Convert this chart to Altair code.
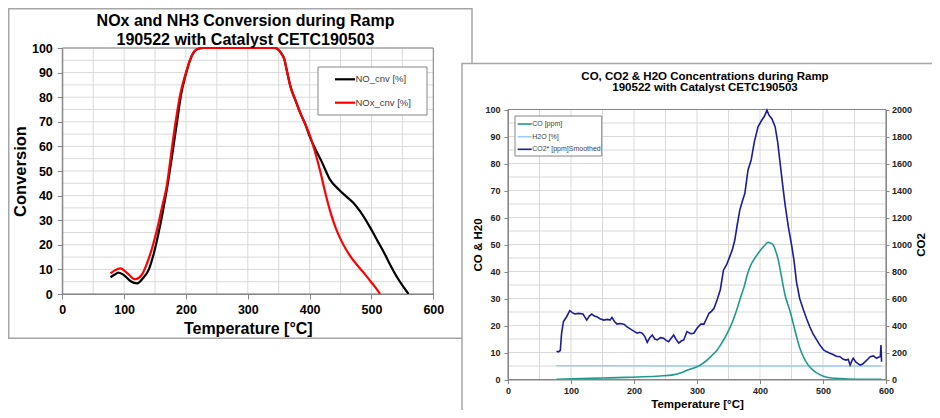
import altair as alt
import pandas as pd

# ---------------- text ----------------
left_title = ["NOx and NH3 Conversion during Ramp", "190522 with Catalyst CETC190503"]
right_title = ["CO, CO2 & H2O Concentrations during Ramp", "190522 with Catalyst CETC190503"]
left_legend = ["NO_cnv [%]", "NOx_cnv [%]"]
left_colors = ["#000000", "#ff0000"]
right_legend = ["CO [ppm]", "H2O [%]", "CO2* [ppm]Smoothed"]
right_colors = ["#1f9a8c", "#9dcbf5", "#1c1c96"]

# ---------------- ticks ----------------
x_ticks = [0, 100, 200, 300, 400, 500, 600]
x_grid = [0, 50, 100, 150, 200, 250, 300, 350, 400, 450, 500, 550, 600]
y_ticks = [0, 10, 20, 30, 40, 50, 60, 70, 80, 90, 100]
y_grid = [0, 5, 10, 15, 20, 25, 30, 35, 40, 45, 50, 55, 60, 65, 70, 75, 80, 85, 90, 95, 100]
co2_ticks = [0, 200, 400, 600, 800, 1000, 1200, 1400, 1600, 1800, 2000]

# ---------------- left chart data ----------------
no_T = [78, 84, 91, 100, 110, 121, 130, 140, 148, 155, 163, 170, 178, 185, 192, 200, 207, 213, 220, 228,
        300, 344, 350, 355, 359, 363, 369, 377, 385, 393, 401, 410, 420, 433, 447, 460, 471, 482, 498, 510,
        520, 530, 541, 550, 560]
no_C = [6.8, 7.8, 8.7, 7.6, 5.3, 4.3, 6.3, 10.0, 16.5, 24.0, 34.0, 44.0, 57.0, 69.0, 81.0, 89.5, 95.3, 98.4, 99.7, 100,
        100, 100, 99.2, 97.5, 95.5, 91.0, 84.3, 78.8, 73.5, 69.0, 63.5, 58.5, 53.5, 46.5, 42.5, 39.5, 37.0, 33.5, 27.0, 21.5,
        17.0, 12.0, 7.0, 3.5, 0.0]
nox_T = [78, 85, 94, 105, 118, 128, 137, 145, 153, 161, 169, 176, 183, 191, 200, 207, 213, 220, 227, 300,
         344, 350, 355, 359, 363, 369, 377, 385, 393, 401, 409, 417, 425, 434, 442, 450, 458, 466, 476, 487,
         498, 507, 514]
nox_C = [8.4, 9.6, 10.4, 8.5, 6.0, 7.6, 12.5, 18.5, 26.0, 35.0, 44.0, 57.0, 69.5, 81.5, 90.0, 95.5, 98.5, 99.7, 100, 100,
         100, 99.2, 97.5, 95.5, 91.0, 84.3, 78.8, 73.5, 69.0, 64.0, 57.5, 50.0, 41.5, 33.0, 27.0, 22.3, 18.5, 15.3, 12.0, 8.8,
         5.3, 2.5, 0.0]

# ---------------- right chart data ----------------
co2_T = [77, 80, 83, 85, 88, 93, 98, 102, 106, 112,
         119, 125, 129, 133, 137, 141, 146, 152, 158, 162,
         165, 169, 173, 178, 184, 189, 194, 199, 205, 209,
         213, 217, 221, 225, 229, 233, 237, 242, 247, 251,
         255, 259, 263, 267, 271, 275, 279, 284, 290, 295,
         300, 306, 311, 315, 319, 323, 327, 332, 337, 342,
         347, 352, 356, 360, 364, 368, 372, 376, 381, 386,
         391, 397, 403, 407, 411, 414, 419, 424, 428, 432,
         436, 440, 445, 450, 454, 458, 463, 469, 474, 479,
         484, 490, 495, 501, 506, 511, 516, 521, 527, 532,
         537, 540, 543, 546, 548, 552, 555, 559, 563, 567,
         571, 575, 580, 585, 588, 591, 592, 593]
co2_V = [210, 205, 215, 340, 430, 465, 510, 495, 485, 490,
         485, 440, 470, 485, 470, 465, 450, 440, 445, 440,
         460, 430, 410, 415, 410, 390, 375, 360, 343, 350,
         343, 320, 275, 310, 330, 300, 293, 310, 305, 290,
         280, 305, 330, 295, 270, 285, 293, 355, 340, 343,
         380, 410, 410, 450, 490, 505, 527, 590, 665, 810,
         850, 910, 960, 1033, 1150, 1256, 1320, 1379, 1552, 1626,
         1760, 1873, 1922, 1950, 1995, 1960, 1930, 1873, 1760, 1601,
         1440, 1290, 1130, 1000, 880, 720, 600, 515, 450, 391,
         340, 293, 255, 219, 205, 194, 185, 172, 169, 150,
         144, 150, 107, 140, 157, 130, 120, 107, 115, 132,
         150, 169, 175, 157, 165, 169, 255, 132]
co_T = [77, 100, 130, 160, 188, 215, 241, 262, 275, 285,
        300, 308, 316, 324, 332, 340, 348, 356, 364, 370,
        375, 380, 385, 390, 397, 403, 408, 413, 417, 421,
        425, 429, 433, 437, 440, 444, 448, 453, 458, 463,
        469, 476, 485, 495, 506, 520, 540, 560, 593]
co_V = [0.1, 0.3, 0.4, 0.6, 0.8, 1.0, 1.3, 1.7, 2.5, 3.5,
        4.7, 5.8, 7.2, 9.0, 10.9, 13.8, 17.1, 21.2, 26.5, 31.0,
        34.5, 39.0, 42.2, 44.3, 46.7, 48.5, 49.8, 50.8, 50.5, 49.8,
        47.5, 44.3, 39.5, 34.4, 31.0, 28.0, 25.0, 20.5, 15.9, 11.8,
        8.4, 5.5, 3.3, 1.8, 0.8, 0.4, 0.2, 0.1, 0.1]
h2o_T = [77, 150, 250, 350, 450, 550, 593]
h2o_V = [5.1, 5.1, 5.0, 5.0, 5.0, 5.0, 5.0]

# ---------------- styling ----------------
FONT = "Liberation Sans"
GRID = "#d9d9d9"
AX = "#868686"
FRAME = "#a6a6a6"
W, H = 924, 402


def scale(dom, rng):
    return alt.Scale(domain=dom, range=rng, nice=False, zero=False)


LXS = scale([0, 600], [54.3, 425.3])
LYS = scale([0, 100], [286, 40])
RXS = scale([0, 600], [500, 878])
RYS = scale([0, 100], [371.5, 101.5])
RY2S = scale([0, 2000], [371.5, 101.5])

one = pd.DataFrame({"k": [0]})


def rect(x1, x2, y1, y2, fill="white", stroke=FRAME, sw=1.5, op=1.0):
    return alt.Chart(one).mark_rect(fill=fill, fillOpacity=op, stroke=stroke, strokeWidth=sw).encode(
        x=alt.value(x1), x2=alt.value(x2), y=alt.value(y1), y2=alt.value(y2))


def text(s, x, y, size, weight="normal", align="center", color="#000000"):
    return alt.Chart(pd.DataFrame({"t": [s]})).mark_text(
        font=FONT, fontSize=size, fontWeight=weight, align=align, baseline="middle", color=color
    ).encode(x=alt.value(x), y=alt.value(y), text="t:N")


def grid(xs, ys):
    v = alt.Chart(pd.DataFrame({"g": x_grid})).mark_rule(color=GRID, strokeWidth=1).encode(
        x=alt.X("g:Q", scale=xs, axis=None),
        y=alt.YDatum(datum=0, scale=ys, axis=None), y2=alt.Y2Datum(datum=100))
    h = alt.Chart(pd.DataFrame({"g": y_grid})).mark_rule(color=GRID, strokeWidth=1).encode(
        y=alt.Y("g:Q", scale=ys, axis=None),
        x=alt.XDatum(datum=0, scale=xs, axis=None), x2=alt.X2Datum(datum=600))
    border = alt.Chart(one).mark_rect(fill="white", fillOpacity=0, stroke=AX, strokeWidth=1).encode(
        x=alt.XDatum(datum=0, scale=xs, axis=None), x2=alt.X2Datum(datum=600),
        y=alt.YDatum(datum=0, scale=ys, axis=None), y2=alt.Y2Datum(datum=100))
    return [v, h, border]


def legend(labels, colors, box, x1, x2, ys, size, sw):
    layers = [rect(*box, fill="white", stroke=AX, sw=1)]
    for lab, col, y in zip(labels, colors, ys):
        layers.append(alt.Chart(one).mark_rule(color=col, strokeWidth=sw).encode(
            x=alt.value(x1), x2=alt.value(x2), y=alt.value(y)))
        layers.append(text(lab, x2 + 0.5, y, size, align="left", color="#404040"))
    return layers


def axis(orient, offset, values, lsize, tsize, title, tx, ty, tick, pad, lcolor="#000000", angle=None):
    kw = dict(orient=orient, offset=offset, values=values, format="d", grid=False, domainColor=AX,
              domainWidth=1, tickColor=AX, tickSize=tick, labelPadding=pad, labelFont=FONT,
              labelFontSize=lsize, labelFontWeight="bold", labelColor=lcolor, labelFlush=False,
              labelOverlap=False, title=title, titleFont=FONT, titleFontSize=tsize, titleFontWeight="bold",
              titleColor="#000000", titleX=tx, titleY=ty, titleBaseline="middle", titleAlign="center",
              zindex=1)
    if angle is not None:
        kw["titleAngle"] = angle
    return alt.Axis(**kw)


def line(T, V, xs, ys, color, sw, xaxis=None, yaxis=None, interp="linear"):
    df = pd.DataFrame({"T": T, "V": V})
    return alt.Chart(df).mark_line(color=color, strokeWidth=sw, interpolate=interp).encode(
        x=alt.X("T:Q", scale=xs, axis=xaxis), y=alt.Y("V:Q", scale=ys, axis=yaxis))


# ---------------- left chart ----------------
left_layers = [rect(0.75, 464, 0.75, 330.3)]
left_layers += grid(LXS, LYS)
left_layers += legend(left_legend, left_colors, (310, 419, 59, 107), 327, 347, [71.3, 94.7], 9.5, 2.2)
left_layers.append(line(no_T, no_C, LXS, LYS, left_colors[0], 2.2,
                        xaxis=axis("bottom", -116, x_ticks, 12.5, 16, "Temperature [°C]", 239.8, 34.3, 5, 4),
                        yaxis=axis("left", -54.3, y_ticks, 12.5, 16.5, "Conversion", -42.3, 163, 5, 5),
                        interp="monotone"))
left_layers.append(line(nox_T, nox_C, LXS, LYS, left_colors[1], 2.2, interp="monotone"))
left_layers.append(text(left_title[0], 237.5, 12.7, 16, "bold"))
left_layers.append(text(left_title[1], 237.5, 32, 16, "bold"))

# ---------------- right chart ----------------
right_layers = [rect(454, 940, 55.5, 420)]
right_layers += grid(RXS, RYS)
right_layers += legend(right_legend, right_colors, (507, 593.7, 108, 148), 509.7, 523.7,
                       [116, 128.7, 141.3], 7, 1.6)
right_layers.append(line(h2o_T, h2o_V, RXS, RYS, right_colors[1], 1.6))
right_layers.append(line(co_T, co_V, RXS, RYS, right_colors[0], 1.6,
                         xaxis=axis("bottom", -30.5, x_ticks, 9, 11.5, "Temperature [°C]", 689, 24.5, 4, 2.5,
                                    lcolor="#222222"),
                         yaxis=axis("left", -500, y_ticks, 9, 11.5, "CO & H20", -29.7, 236.5, 4, 4,
                                    lcolor="#222222"),
                         interp="monotone"))
right_layers.append(line(co2_T, co2_V, RXS, RY2S, right_colors[2], 1.6,
                         yaxis=axis("right", -46, co2_ticks, 9, 11.5, "CO2", 35.7, 236.5, 3, 2.5,
                                    lcolor="#222222", angle=270)))
right_layers.append(text(right_title[0], 697, 68.7, 11.5, "bold"))
right_layers.append(text(right_title[1], 697, 80.3, 11.5, "bold"))

chart = alt.layer(*(left_layers + right_layers)).resolve_scale(
    x="independent", y="independent"
).properties(
    width=W, height=H, padding=0, background="white",
    autosize=alt.AutoSizeParams(type="none"),
).configure_view(stroke=None)

chart.save("out.html", embed_options={"renderer": "svg", "actions": False})
